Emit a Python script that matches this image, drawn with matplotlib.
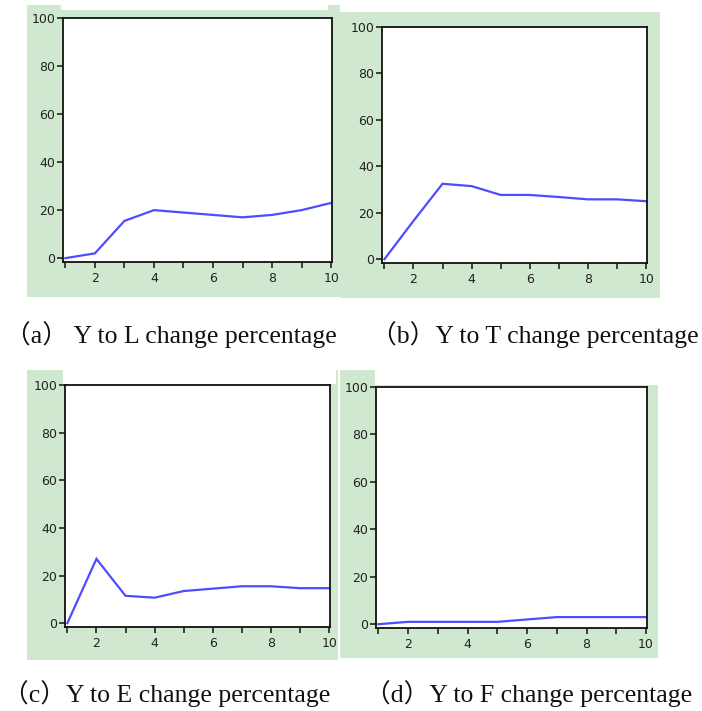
import matplotlib
matplotlib.use("Agg")
import matplotlib.pyplot as plt
from matplotlib.patches import Rectangle
from matplotlib.ticker import MultipleLocator, FixedLocator

W, H = 702, 711
DPI = 100

periods = [1, 2, 3, 4, 5, 6, 7, 8, 9, 10]
y_L = [0, 2, 15.5, 20, 19, 18, 17, 18, 20, 23]
y_T = [0, 16.5, 32.5, 31.5, 27.7, 27.7, 26.8, 25.8, 25.8, 25]
y_E = [0, 27, 11.5, 10.7, 13.5, 14.5, 15.5, 15.5, 14.7, 14.7]
y_F = [0, 1, 1, 1, 1, 2, 3, 3, 3, 3]

captions = ["（a） Y to L change percentage", "（b）Y to T change percentage",
            "（c）Y to E change percentage", "（d）Y to F change percentage"]
x_major = [2, 4, 6, 8, 10]
y_ticks = [0, 20, 40, 60, 80, 100]

GREEN = "#d0e8cf"
LINE = "#4d4dff"

fig = plt.figure(figsize=(W / DPI, H / DPI), dpi=DPI)
fig.patch.set_facecolor("white")


def rect_px(x0, y0, x1, y1, color, z):
    fig.patches.append(Rectangle((x0 / W, 1 - y1 / H), (x1 - x0) / W, (y1 - y0) / H,
                                 transform=fig.transFigure, facecolor=color,
                                 edgecolor="none", zorder=z))


# green backgrounds
rect_px(27, 5, 340, 297, GREEN, -10)
rect_px(340, 12, 660, 298, GREEN, -10)
rect_px(27, 370, 338, 660, GREEN, -10)
rect_px(340, 370, 658, 658, GREEN, -10)
# white strips above plot areas
rect_px(61, 0, 328, 10, "white", -9)
rect_px(63, 370, 336, 384, "white", -9)
rect_px(375, 370, 660, 385, "white", -9)

# axes boxes in pixels: left, top, right, bottom
boxes = [(63, 18, 332, 262), (382, 27, 647, 263), (65, 385, 330, 627), (376, 387, 647, 628)]
series = [y_L, y_T, y_E, y_F]

for (l, t, r, b), ys in zip(boxes, series):
    ax = fig.add_axes([l / W, 1 - b / H, (r - l) / W, (b - t) / H], zorder=1)
    ax.set_facecolor("white")
    ax.plot(periods, ys, color=LINE, lw=1.6, solid_joinstyle="miter")
    ax.set_xlim(0.92, 10.03)
    ax.set_ylim(-1.6, 100)
    ax.xaxis.set_major_locator(FixedLocator(x_major))
    ax.xaxis.set_minor_locator(MultipleLocator(1))
    ax.set_yticks(y_ticks)
    ax.set_xticklabels([str(v) for v in x_major])
    ax.set_yticklabels([str(v) for v in y_ticks])
    for s in ax.spines.values():
        s.set_linewidth(1.3)
        s.set_color("#111111")
    ax.tick_params(axis="both", which="both", direction="out", length=4, width=1.1,
                   color="#111111", labelsize=9, labelcolor="#222222", pad=1.5)
    ax.tick_params(axis="x", pad=3)

cap_pos = [(337, 343), (699, 343), (330, 702), (692, 702)]
for (x, y), txt in zip(cap_pos, captions):
    fig.text(x / W, 1 - y / H, txt, ha="right", va="baseline", fontsize=18.5,
             family=["Liberation Serif", "Noto Sans CJK SC"], color="#111111")

fig.savefig("out.png", dpi=DPI)
